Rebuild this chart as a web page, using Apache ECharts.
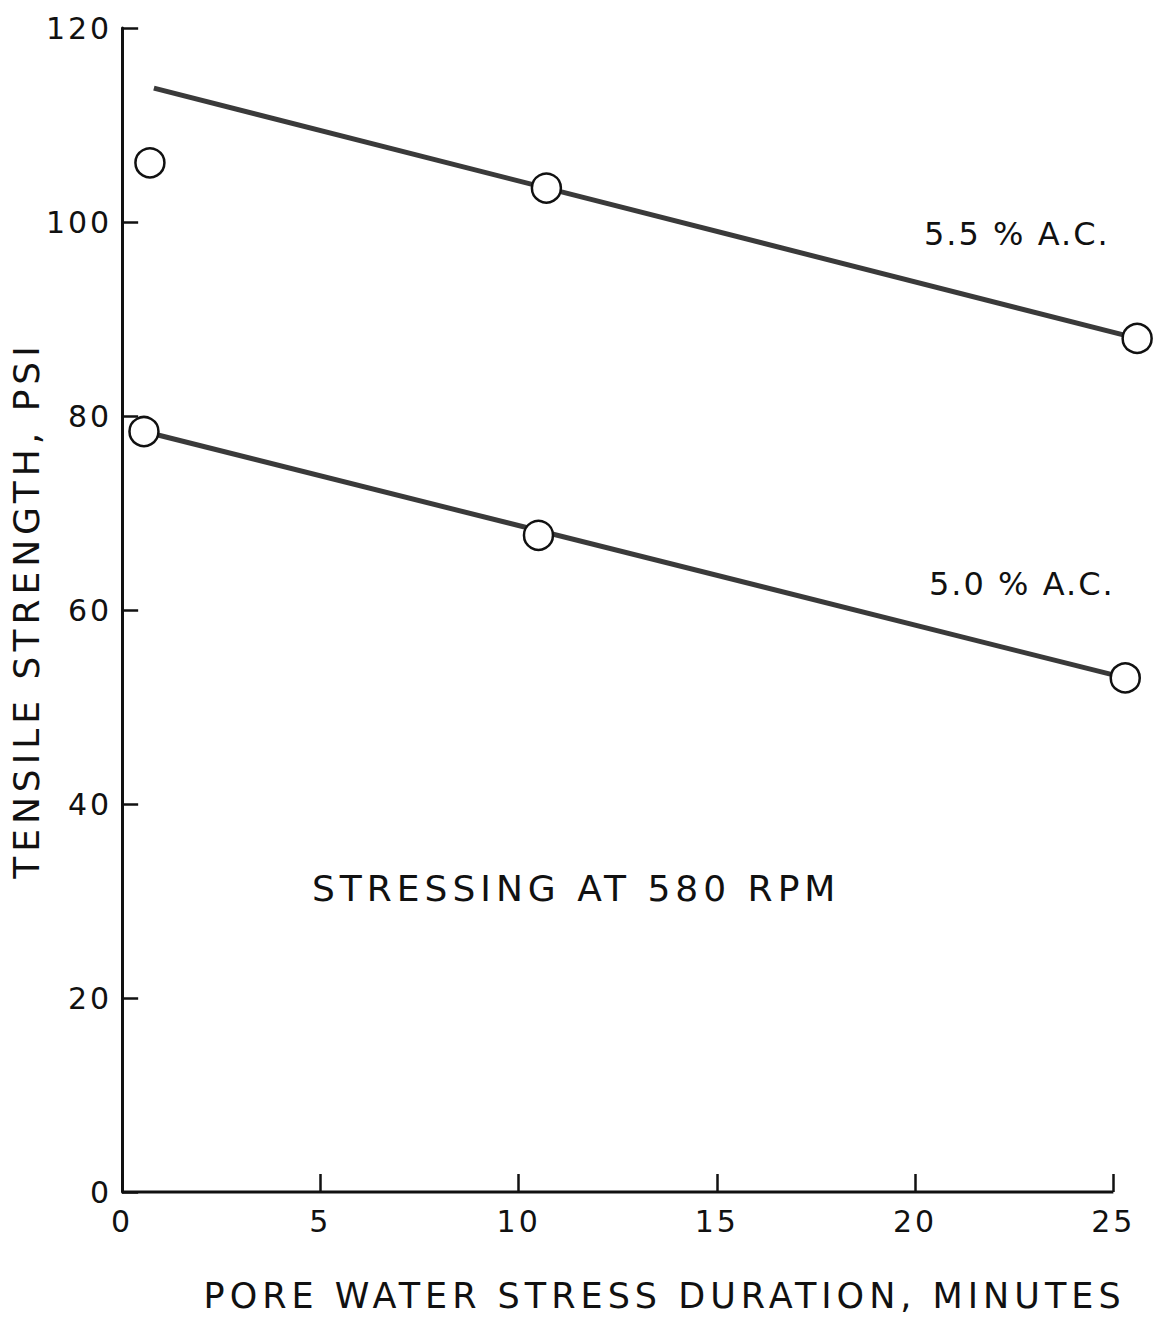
<!DOCTYPE html>
<html>
<head>
    <meta charset="UTF-8">
    <title>Tensile strength vs pore water stress duration</title>
    <script type="text/javascript" src="https://cdn.jsdelivr.net/npm/echarts@6/dist/echarts.min.js"></script>
    <style>
        html, body { margin: 0; padding: 0; background: #fff; }
        /* hand lettering on the original is widely spaced */
        #main text { letter-spacing: 3px; }
        #main text[style*="36px"] { letter-spacing: 5px; }
        #main text[style*="35px"] { letter-spacing: 5px; }
        #main text[style*="32px"] { letter-spacing: 2px; }
    </style>
</head>
<body>
<div id="main" style="width: 1159px;height:1324px;"></div>
<script type="text/javascript">
    var line55 = [[0.8, 113.8], [25.6, 88.0]];
    var points55 = [[0.7, 106.1], [10.7, 103.5], [25.6, 88.0]];
    var line50 = [[0.55, 78.4], [25.3, 53.0]];
    var points50 = [[0.55, 78.4], [10.5, 67.7], [25.3, 53.0]];

    var xTicks = [0, 5, 10, 15, 20, 25];
    var yTicks = [0, 20, 40, 60, 80, 100, 120];

    var font = 'DejaVu Sans';
    var ink = '#111';

    // renderer is svg so the css letter-spacing above reaches the text
    var myChart = echarts.init(document.getElementById('main'), null, { renderer: 'svg' });

    function lineSeries(data, color, width) {
        return {
            type: 'line',
            data: data,
            showSymbol: false,
            clip: false,
            silent: true,
            lineStyle: { color: color, width: width },
            z: 2
        };
    }
    function pointSeries(data) {
        return {
            type: 'scatter',
            data: data,
            symbol: 'circle',
            symbolSize: 29,
            clip: false,
            silent: true,
            itemStyle: { color: '#fff', borderColor: ink, borderWidth: 2.5, opacity: 1 },
            z: 3
        };
    }

    // x axis runs a bit past 25 so the last points are not cut off;
    // its line is drawn from 0 to 25 only, like the original
    var xBase = [[xTicks[0], 0], [xTicks[xTicks.length - 1], 0]];

    myChart.setOption({
        animation: false,
        backgroundColor: '#fff',
        grid: { left: 122, right: 6, top: 28, bottom: 132 },
        xAxis: {
            type: 'value',
            min: 0,
            max: 26,
            name: 'PORE WATER STRESS DURATION, MINUTES',
            nameLocation: 'middle',
            nameGap: 86,
            nameTextStyle: { fontFamily: font, fontSize: 35, color: ink, padding: [0, 0, 0, 54] },
            axisLine: { show: false },
            axisTick: { show: true, inside: true, length: 18, customValues: xTicks, lineStyle: { color: ink, width: 2.5 } },
            axisLabel: { fontFamily: font, fontSize: 30, color: ink, margin: 14, customValues: xTicks },
            splitLine: { show: false }
        },
        yAxis: {
            type: 'value',
            min: yTicks[0],
            max: yTicks[yTicks.length - 1],
            interval: 20,
            name: 'TENSILE STRENGTH, PSI',
            nameLocation: 'middle',
            nameGap: 78,
            nameRotate: 90,
            nameTextStyle: { fontFamily: font, fontSize: 36, color: ink },
            axisLine: { show: true, lineStyle: { color: ink, width: 3 } },
            axisTick: { show: true, inside: true, length: 16, lineStyle: { color: ink, width: 2.5 } },
            axisLabel: { fontFamily: font, fontSize: 30, color: ink, margin: 10 },
            splitLine: { show: false }
        },
        graphic: [
            { type: 'text', left: 924, top: 218, style: { text: '5.5 % A.C.', font: '32px "DejaVu Sans"', fill: ink } },
            { type: 'text', left: 929, top: 568, style: { text: '5.0 % A.C.', font: '32px "DejaVu Sans"', fill: ink } },
            { type: 'text', left: 312, top: 870, style: { text: 'STRESSING AT 580 RPM', font: '36px "DejaVu Sans"', fill: ink } }
        ],
        series: [
            lineSeries(xBase, ink, 3),
            lineSeries(line55, '#3a3a3a', 5),
            lineSeries(line50, '#3a3a3a', 5),
            pointSeries(points55),
            pointSeries(points50)
        ]
    });
</script>
</body>
</html>
